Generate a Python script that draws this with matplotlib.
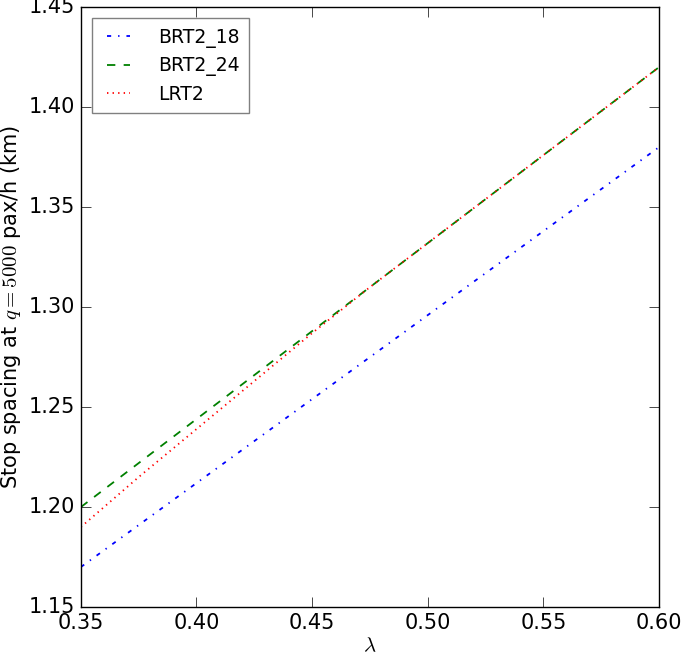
import numpy as np
import matplotlib
matplotlib.use('Agg')
import matplotlib.pyplot as plt

plt.style.use('classic')
plt.rcParams['font.size'] = 12
plt.rcParams['lines.linewidth'] = 1.3

lam = [0.35, 0.375, 0.40, 0.425, 0.45, 0.475, 0.50, 0.525, 0.55, 0.575, 0.60]
brt2_18 = [1.170, 1.191, 1.212, 1.233, 1.254, 1.275, 1.296, 1.317, 1.338, 1.359, 1.380]
brt2_24 = [1.200, 1.222, 1.244, 1.266, 1.288, 1.310, 1.332, 1.354, 1.376, 1.398, 1.420]
lrt2 = [1.190, 1.215, 1.239, 1.263, 1.287, 1.310, 1.332, 1.354, 1.376, 1.398, 1.420]

fig = plt.figure(figsize=(6.85, 6.57), dpi=100, facecolor='white')
ax = fig.add_axes([0.118, 0.076, 0.844, 0.913])

ax.plot(lam, brt2_18, 'b-.', label='BRT2_18')
ax.plot(lam, brt2_24, 'g--', label='BRT2_24')
ax.plot(lam, lrt2, 'r:', label='LRT2')

ax.set_xlim(0.35, 0.60)
ax.set_ylim(1.15, 1.45)
ax.set_xticks(np.arange(0.35, 0.601, 0.05))
ax.set_yticks(np.arange(1.15, 1.451, 0.05))
ax.tick_params(length=7, labelsize=15)
ax.set_xlabel(r'$\lambda$', fontsize=15, labelpad=2)
ax.set_ylabel(r'Stop spacing at $q=5000$ pax/h (km)', fontsize=15, labelpad=4)

leg = ax.legend(loc='upper left', fontsize=13.5, handlelength=1.8, handletextpad=1.2,
                borderpad=0.5, labelspacing=0.45, borderaxespad=0.6)
leg.get_frame().set_edgecolor('0.5')

fig.savefig('out.png', facecolor='white')
